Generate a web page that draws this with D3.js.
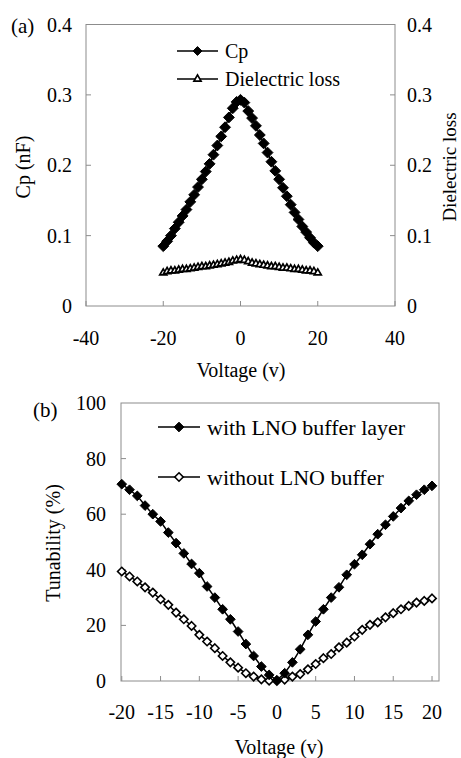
<!DOCTYPE html>
<html>
<head>
<meta charset="utf-8">
<script src="https://cdn.jsdelivr.net/npm/d3@7"></script>
<style>
  body { margin: 0; background: #fff; }
  svg { display: block; }
  text { font-family: "Liberation Serif", "DejaVu Serif", "Times New Roman", serif; }
</style>
</head>
<body>
<svg width="461" height="758"></svg>
<script>
// ---- data ----
const voltage = d3.range(-20, 21); // -20 .. 20 V, 1 V steps

const cp = [0.085, 0.092, 0.100, 0.110, 0.119, 0.128, 0.137, 0.148, 0.158, 0.169,
            0.180, 0.191, 0.202, 0.215, 0.228, 0.241, 0.254, 0.268, 0.281, 0.290,
            0.293,
            0.289, 0.277, 0.267, 0.256, 0.243, 0.231, 0.218, 0.205, 0.192, 0.180,
            0.168, 0.156, 0.144, 0.133, 0.123, 0.113, 0.105, 0.097, 0.090, 0.085];

const loss = [0.047, 0.049, 0.050, 0.050, 0.051, 0.052, 0.052, 0.053, 0.054, 0.055,
              0.056, 0.056, 0.057, 0.058, 0.059, 0.060, 0.061, 0.062, 0.064, 0.065,
              0.066,
              0.065, 0.063, 0.061, 0.060, 0.059, 0.058, 0.057, 0.056, 0.056, 0.055,
              0.054, 0.054, 0.053, 0.052, 0.052, 0.051, 0.050, 0.050, 0.049, 0.047];

const withLNO = [70.8, 68.8, 66.6, 63.1, 60.0, 57.4, 53.4, 49.6, 45.9, 42.1,
                 38.8, 34.0, 30.0, 25.8, 22.2, 17.8, 13.3, 9.0, 5.2, 2.2,
                 0.3,
                 2.8, 6.7, 11.4, 16.6, 21.4, 25.8, 30.0, 33.7, 38.2, 42.0,
                 45.4, 49.2, 52.8, 56.2, 59.2, 62.2, 64.8, 67.0, 68.8, 70.2];

const withoutLNO = [39.4, 37.6, 35.8, 33.7, 31.8, 29.4, 27.4, 24.6, 22.2, 19.8,
                    16.6, 14.2, 11.8, 9.0, 6.7, 4.8, 2.8, 1.6, 0.6, 0.1,
                    0.0,
                    0.5, 1.6, 2.5, 4.2, 6.1, 8.2, 9.7, 12.1, 13.8, 16.0,
                    18.4, 20.2, 21.1, 22.9, 24.4, 25.8, 27.0, 28.2, 28.8, 29.7];

const topXTicks = [-40, -20, 0, 20, 40];
const topYTicks = [0, 0.1, 0.2, 0.3, 0.4];
const botXTicks = [-20, -15, -10, -5, 0, 5, 10, 15, 20];
const botYTicks = [0, 20, 40, 60, 80, 100];

const svg = d3.select("svg");
const axisColor = "#8c8c8c";
const fontSize = 20;
const serif = "'Liberation Serif', 'DejaVu Serif', serif";

const diamond = d3.symbol().type(d3.symbolDiamond2);
const triangle = d3.symbol().type(d3.symbolTriangle2);

function label(g) {
    return g.append("text").attr("font-family", serif);
}

function frame(g, x, y) {
    const [x0, x1] = x.range();
    const [y0, y1] = y.range();
    g.append("rect")
        .attr("x", x0).attr("y", y1)
        .attr("width", x1 - x0).attr("height", y0 - y1)
        .attr("fill", "none")
        .attr("stroke", axisColor)
        .attr("stroke-width", 1);
}

function xTicks(g, x, y, ticks, labelY) {
    const y0 = y.range()[0];
    g.selectAll(null).data(ticks).join("line")
        .attr("x1", d => x(d)).attr("x2", d => x(d))
        .attr("y1", y0).attr("y2", y0 - 5)
        .attr("stroke", axisColor);
    g.selectAll(null).data(ticks).join("text")
        .attr("font-family", serif)
        .attr("x", d => x(d)).attr("y", labelY)
        .attr("text-anchor", "middle")
        .attr("font-size", fontSize)
        .text(d => d);
}

function yTicks(g, x, y, ticks, side, labelX, fmt) {
    const xa = side === "left" ? x.range()[0] : x.range()[1];
    const dir = side === "left" ? 1 : -1;
    g.selectAll(null).data(ticks.slice(1, -1)).join("line")
        .attr("x1", xa).attr("x2", xa + dir * 5)
        .attr("y1", d => y(d)).attr("y2", d => y(d))
        .attr("stroke", axisColor);
    g.selectAll(null).data(ticks).join("text")
        .attr("font-family", serif)
        .attr("x", labelX).attr("y", d => y(d) + 7)
        .attr("text-anchor", side === "left" ? "end" : "start")
        .attr("font-size", fontSize)
        .text(fmt);
}

function series(g, x, y, values, opts) {
    const pts = voltage.map((v, i) => [v, values[i]]);
    g.append("path")
        .datum(pts)
        .attr("fill", "none")
        .attr("stroke", "#000")
        .attr("stroke-width", 1.5)
        .attr("d", d3.line().x(d => x(d[0])).y(d => y(d[1])));
    g.selectAll(null).data(pts).join("path")
        .attr("transform", d => `translate(${x(d[0])},${y(d[1])})`)
        .attr("d", opts.symbol.size(opts.size)())
        .attr("fill", opts.fill)
        .attr("stroke", "#000")
        .attr("stroke-width", opts.stroke);
}

function legendItem(g, x1, x2, y, text, opts, fs) {
    g.append("line")
        .attr("x1", x1).attr("x2", x2).attr("y1", y).attr("y2", y)
        .attr("stroke", "#000").attr("stroke-width", 1.5);
    g.append("path")
        .attr("transform", `translate(${(x1 + x2) / 2},${y})`)
        .attr("d", opts.symbol.size(opts.size)())
        .attr("fill", opts.fill)
        .attr("stroke", "#000")
        .attr("stroke-width", opts.stroke);
    label(g)
        .attr("x", x2 + 7).attr("y", y + fs * 0.35)
        .attr("font-size", fs)
        .text(text);
}

// ---- panel (a) ----
const xa = d3.scaleLinear().domain([-40, 40]).range([86, 395]);
const ya = d3.scaleLinear().domain([0, 0.4]).range([306, 24.5]);
const ga = svg.append("g");

frame(ga, xa, ya);
xTicks(ga, xa, ya, topXTicks, 345);
yTicks(ga, xa, ya, topYTicks, "left", 72, d => d === 0 ? "0" : d3.format(".1f")(d));
yTicks(ga, xa, ya, topYTicks, "right", 407, d => d === 0 ? "0" : d3.format(".1f")(d));

const cpStyle = { symbol: diamond, size: 75, fill: "#000", stroke: 1 };
const lossStyle = { symbol: triangle, size: 36, fill: "#fff", stroke: 1.7 };
series(ga, xa, ya, loss, lossStyle);
series(ga, xa, ya, cp, cpStyle);

legendItem(ga, 177, 218, 51, "Cp", { ...cpStyle, size: 50 }, 20);
legendItem(ga, 177, 218, 79, "Dielectric loss", lossStyle, 20);

label(ga).attr("x", 11).attr("y", 33).attr("font-size", 21).text("(a)");
label(ga).attr("x", 241).attr("y", 377).attr("text-anchor", "middle")
    .attr("font-size", fontSize).text("Voltage (v)");
label(ga).attr("transform", "translate(30,167) rotate(-90)")
    .attr("text-anchor", "middle").attr("font-size", fontSize).text("Cp (nF)");
label(ga).attr("transform", "translate(456,167) rotate(-90)")
    .attr("text-anchor", "middle").attr("font-size", 19).text("Dielectric loss");

// ---- panel (b) ----
const xb = d3.scaleLinear().domain([-20.1, 20.9]).range([121, 439]);
const yb = d3.scaleLinear().domain([0, 100]).range([681, 403]);
const gb = svg.append("g");

frame(gb, xb, yb);
xTicks(gb, xb, yb, botXTicks, 719);
yTicks(gb, xb, yb, botYTicks, "left", 106, d => d);

const withStyle = { symbol: diamond, size: 60, fill: "#000", stroke: 1 };
const withoutStyle = { symbol: diamond, size: 45, fill: "#fff", stroke: 1.6 };
series(gb, xb, yb, withoutLNO, withoutStyle);
series(gb, xb, yb, withLNO, withStyle);

legendItem(gb, 158, 200, 427, "with LNO buffer layer", withStyle, 22);
legendItem(gb, 158, 200, 477, "without LNO buffer", withoutStyle, 22);

label(gb).attr("x", 33).attr("y", 417).attr("font-size", 21).text("(b)");
label(gb).attr("x", 279).attr("y", 754).attr("text-anchor", "middle")
    .attr("font-size", fontSize).text("Voltage (v)");
label(gb).attr("transform", "translate(60,543) rotate(-90)")
    .attr("text-anchor", "middle").attr("font-size", fontSize).text("Tunability (%)");
</script>
</body>
</html>
